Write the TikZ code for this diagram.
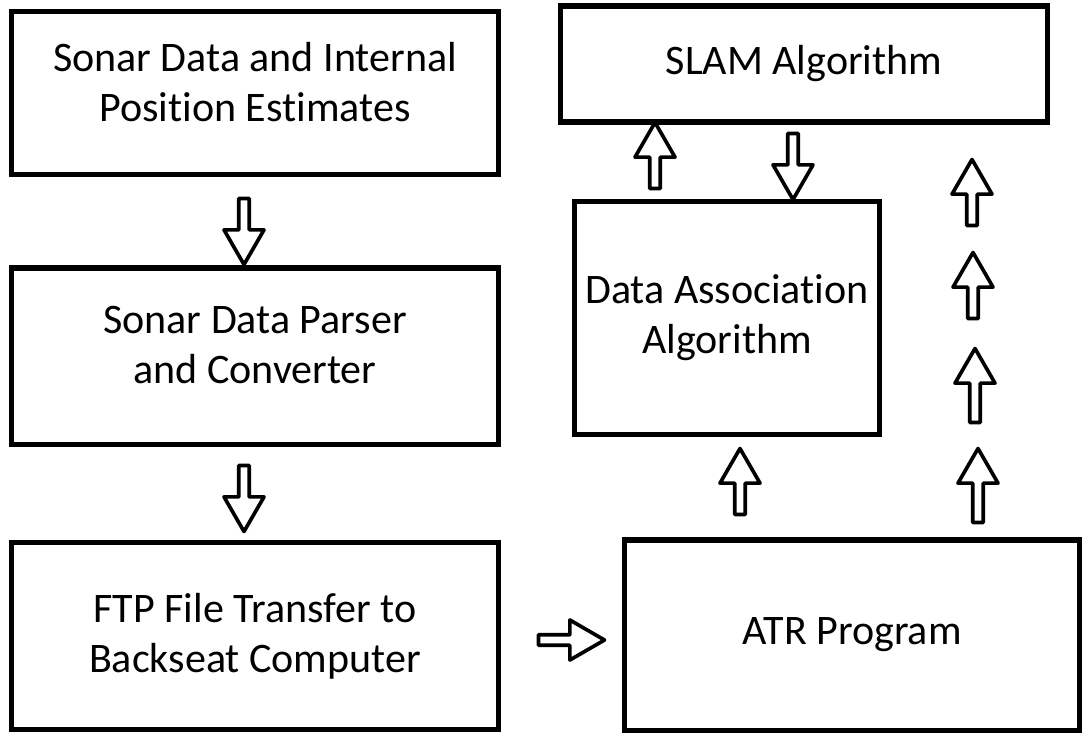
\documentclass[tikz,border=0pt]{standalone}
\usepackage{fontspec}
\setmainfont{Carlito}[Ligatures=NoCommon]
\usetikzlibrary{shapes.arrows}
\tikzset{
  stage/.style={draw, line width=3.6pt, align=center, inner sep=0pt,
    font=\fontsize{29.9}{35.6}\selectfont},
  blockarrow/.style={single arrow, draw, line width=2.6pt, line join=round,
    minimum width=1cm, minimum height=1.65cm, inner sep=0pt,
    single arrow head extend=.13cm, single arrow tip angle=60}
}
\begin{document}
\begin{tikzpicture}[x=.025cm, y=-.025cm]
\useasboundingbox (0,0) rectangle (1083,733);
\node[stage, minimum width=12.15cm, minimum height=4.08cm] (sonar) at (255,93) {Sonar Data and Internal\\Position Estimates\\[-20pt]};
\node[stage, minimum width=12.15cm, minimum height=4.4cm] (parser) at (255,356) {Sonar Data Parser\\and Converter\\[-20pt]};
\node[stage, minimum width=12.15cm, minimum height=4.68cm] (ftp) at (255,636) {FTP File Transfer to\\Backseat Computer};
\node[stage, minimum width=12.18cm, minimum height=2.9cm] (slam) at (804,64) {SLAM Algorithm};
\node[stage, minimum width=7.63cm, minimum height=5.83cm] (assoc) at (727,318) {Data Association\\Algorithm};
\node[stage, minimum width=11.38cm, minimum height=4.75cm] (atr) at (852,635) {ATR Program};
\node[blockarrow, rotate=-90] (down1) at (244,227) {};
\node[blockarrow, rotate=-90] (down2) at (244,494) {};
\node[blockarrow] (toatr) at (567,640) {};
\node[blockarrow, rotate=90] (up1) at (655,160) {};
\node[blockarrow, rotate=-90] (down3) at (793,162) {};
\node[blockarrow, rotate=90] (up2) at (740,486) {};
\node[blockarrow, rotate=90] (up3) at (972,197) {};
\node[blockarrow, rotate=90] (up4) at (973,290) {};
\node[blockarrow, rotate=90, minimum height=1.85cm] (up5) at (975,390) {};
\node[blockarrow, rotate=90, minimum height=1.85cm] (up6) at (978,490) {};
\end{tikzpicture}
\end{document}
